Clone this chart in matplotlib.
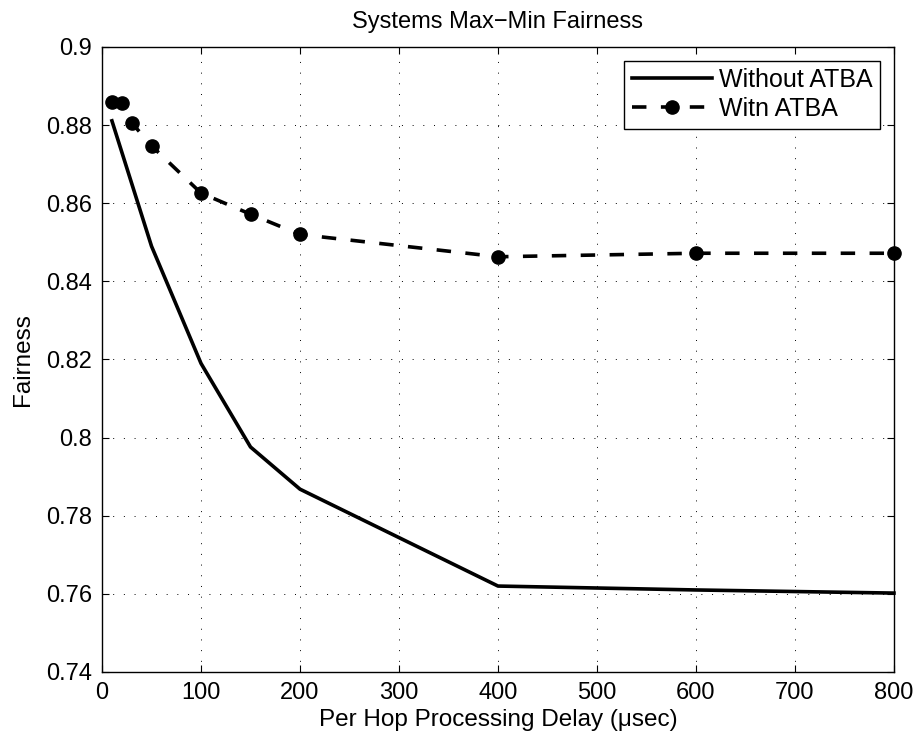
import matplotlib
matplotlib.use("Agg")
import matplotlib.pyplot as plt
import numpy as np

plt.rcParams['font.family'] = ['Liberation Sans', 'DejaVu Sans']
plt.rcParams['font.size'] = 17

# processing delay (usec) and fairness values
delay_without = [10, 50, 100, 150, 200, 400, 600, 800]
fair_without = [0.8811, 0.8490, 0.8190, 0.7976, 0.7868, 0.7620, 0.7610, 0.7602]

delay_with = [10, 20, 30, 50, 100, 150, 200, 400, 600, 800]
fair_with = [0.8860, 0.8856, 0.8806, 0.8747, 0.8626, 0.8572, 0.8520, 0.8463, 0.8472, 0.8472]

xticks = np.arange(0, 801, 100)
yticks = [0.74, 0.76, 0.78, 0.8, 0.82, 0.84, 0.86, 0.88, 0.9]

fig = plt.figure(figsize=(9.2, 7.4), dpi=100)
ax = fig.add_axes([0.1109, 0.0919, 0.8608, 0.8446])

ax.plot(delay_without, fair_without, color='black', lw=2.6, label='Without ATBA',
        clip_on=False)
ax.plot(delay_with, fair_with, color='black', lw=2.6, linestyle=(0, (4, 4)),
        marker='o', markersize=9.5, label='Witn ATBA', clip_on=False)

ax.set_xlim(0, 800)
ax.set_ylim(0.74, 0.9)
ax.set_xticks(xticks)
ax.set_yticks(yticks)
ax.set_yticklabels(['%g' % v for v in yticks])
ax.tick_params(direction='in', length=5, width=0.8, top=True, right=True)
ax.tick_params(axis='y', pad=7)
ax.tick_params(axis='x', pad=7)
ax.grid(True, color='black', linestyle=(0, (1, 10)), linewidth=0.7)
for s in ax.spines.values():
    s.set_linewidth(1.0)

ax.set_title('Systems Max\u2212Min Fairness', fontsize=17, pad=14)
ax.set_xlabel('Per Hop Processing Delay (\u03bcsec)', fontsize=17.5, labelpad=4)
ax.set_ylabel('Fairness', fontsize=17.5, labelpad=9)

leg = ax.legend(loc='upper right', fancybox=False, framealpha=1, edgecolor='black',
                fontsize=18, handlelength=3.2, borderaxespad=0.55, borderpad=0.3,
                labelspacing=0.2, handletextpad=0.3)
leg.get_frame().set_linewidth(1.0)

fig.savefig('out.png', dpi=100)
